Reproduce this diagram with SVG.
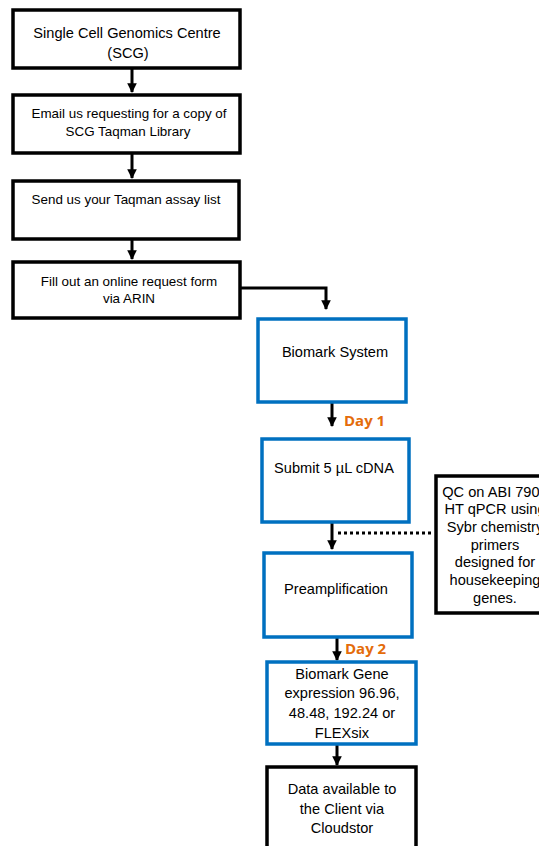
<svg xmlns="http://www.w3.org/2000/svg" width="539" height="846" viewBox="0 0 539 846">
<style>
.k{fill:#fff;stroke:#000;stroke-width:3.5}
.b{fill:#fff;stroke:#0070C0;stroke-width:3.5}
.t{font-family:"Liberation Sans",Arial,sans-serif;font-size:14.6px;fill:#000;text-anchor:middle}
.s{font-size:13.4px}
.d{font-family:"Open Sans","Liberation Sans",sans-serif;font-weight:bold;font-size:15px;fill:#E46C0A}
.c{fill:none;stroke:#000;stroke-width:3}
</style>
<defs>
<marker id="ah" viewBox="0 0 10 10" refX="9" refY="5" markerWidth="3.2" markerHeight="3.2" orient="auto" markerUnits="strokeWidth">
<path d="M0,0 L10,5 L0,10 z" fill="#000"/>
</marker>
</defs>
<rect width="539" height="846" fill="#fff"/>
<g id="connectors">
<line class="c" x1="132" y1="69" x2="132" y2="92" marker-end="url(#ah)"/>
<line class="c" x1="132" y1="154" x2="132" y2="178" marker-end="url(#ah)"/>
<line class="c" x1="132" y1="240" x2="132" y2="259" marker-end="url(#ah)"/>
<polyline class="c" points="241,288 326,288 326,309" marker-end="url(#ah)"/>
<line class="c" x1="332" y1="403" x2="332" y2="426" marker-end="url(#ah)"/>
<line class="c" x1="332" y1="523" x2="332" y2="549" marker-end="url(#ah)"/>
<line x1="338" y1="533" x2="432" y2="533" stroke="#000" stroke-width="3" stroke-dasharray="3,3"/>
<line class="c" x1="337" y1="638" x2="337" y2="660" marker-end="url(#ah)"/>
<line class="c" x1="337" y1="745" x2="337" y2="765" marker-end="url(#ah)"/>
</g>
<g id="n1"><rect class="k" x="13" y="10" width="227" height="58"/>
<text class="t" x="127" y="38" font-size="16">Single Cell Genomics Centre</text>
<text class="t" x="128" y="58" font-size="16">(SCG)</text></g>
<g id="n2"><rect class="k" x="13" y="95" width="227" height="58"/>
<text class="t s" x="129" y="118">Email us requesting for a copy of</text>
<text class="t s" x="128" y="136">SCG Taqman Library</text></g>
<g id="n3"><rect class="k" x="13" y="181" width="226" height="58"/>
<text class="t s" x="126" y="204">Send us your Taqman assay list</text></g>
<g id="n4"><rect class="k" x="13" y="262" width="227" height="56"/>
<text class="t s" x="129" y="286">Fill out an online request form</text>
<text class="t s" x="129" y="303">via ARIN</text></g>
<g id="n5"><rect class="b" x="258" y="319" width="148" height="83"/>
<text class="t" x="335" y="357">Biomark System</text></g>
<text class="d" x="344" y="426">Day 1</text>
<g id="n6"><rect class="b" x="262" y="439" width="147" height="83"/>
<text class="t" x="334" y="473">Submit 5 µL cDNA</text></g>
<g id="n7"><rect class="k" x="436" y="476" width="110" height="137"/>
<text class="t" x="495" y="497">QC on ABI 7900</text>
<text class="t" x="495" y="514">HT qPCR using</text>
<text class="t" x="495" y="532">Sybr chemistry</text>
<text class="t" x="495" y="550">primers</text>
<text class="t" x="495" y="567">designed for</text>
<text class="t" x="495" y="585">housekeeping</text>
<text class="t" x="495" y="603">genes.</text></g>
<g id="n8"><rect class="b" x="264" y="553" width="148" height="84"/>
<text class="t" x="336" y="594">Preamplification</text></g>
<text class="d" x="345" y="654">Day 2</text>
<g id="n9"><rect class="b" x="267" y="662" width="149" height="82"/>
<text class="t" x="342" y="679">Biomark Gene</text>
<text class="t" x="342" y="698">expression 96.96,</text>
<text class="t" x="342" y="718">48.48, 192.24 or</text>
<text class="t" x="342" y="738">FLEXsix</text></g>
<g id="n10"><rect class="k" x="267" y="767" width="149" height="90"/>
<text class="t" x="342" y="794">Data available to</text>
<text class="t" x="342" y="814">the Client via</text>
<text class="t" x="342" y="833">Cloudstor</text></g>
</svg>
